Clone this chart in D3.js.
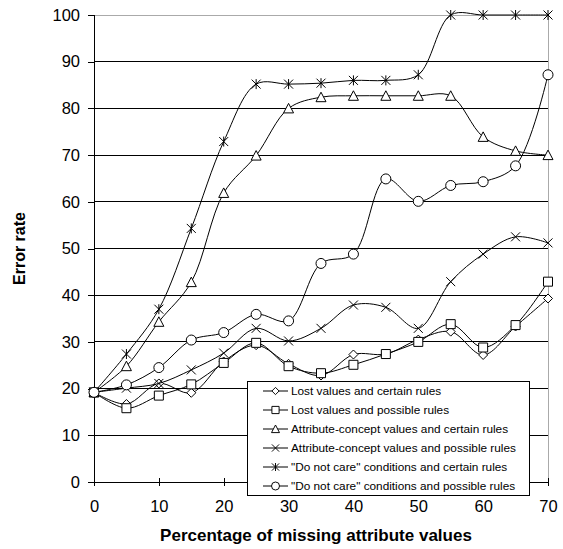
<!DOCTYPE html>
<html>
<head>
<meta charset="utf-8">
<script src="https://cdn.jsdelivr.net/npm/d3@7"></script>
<style>
  body { margin: 0; background: #fff; }
  text { font-family: "Liberation Sans", Arial, sans-serif; fill: #000; }
</style>
</head>
<body>
<div id="chart"></div>
<script>
// data
const missing = [0, 5, 10, 15, 20, 25, 30, 35, 40, 45, 50, 55, 60, 65, 70];
const lostCertain = [19.2, 16.7, 21.1, 19.1, 25.8, 29.3, 25.3, 22.8, 27.3, 27.4, 30.5, 32.2, 27.2, 33.3, 39.3];
const lostPossible = [19.2, 15.8, 18.5, 20.9, 25.5, 29.8, 24.8, 23.3, 25.1, 27.4, 30.0, 33.8, 28.8, 33.6, 42.9];
const acCertain = [19.2, 24.8, 34.3, 42.8, 61.9, 69.9, 80.0, 82.4, 82.7, 82.7, 82.7, 82.7, 73.9, 70.9, 70.0];
const acPossible = [19.2, 20.1, 21.1, 24.0, 27.6, 32.9, 30.2, 32.9, 37.9, 37.4, 32.9, 42.9, 48.8, 52.5, 51.2];
const dncCertain = [19.2, 27.4, 37.0, 54.3, 72.9, 85.2, 85.2, 85.4, 86.0, 86.0, 87.2, 100, 100, 100, 100];
const dncPossible = [19.2, 20.8, 24.5, 30.4, 32.0, 35.9, 34.5, 46.8, 48.8, 64.9, 60.1, 63.5, 64.3, 67.7, 87.2];
const seriesNames = [
    "Lost values and certain rules",
    "Lost values and possible rules",
    "Attribute-concept values and certain rules",
    "Attribute-concept values and possible rules",
    "\"Do not care\" conditions and certain rules",
    "\"Do not care\" conditions and possible rules"
];
const markerTypes = ["diamond", "square", "triangle", "x", "star", "circle"];
const xTicks = [0, 10, 20, 30, 40, 50, 60, 70];
const yTicks = [0, 10, 20, 30, 40, 50, 60, 70, 80, 90, 100];

const allSeries = [lostCertain, lostPossible, acCertain, acPossible, dncCertain, dncPossible];

// set dimensions
const width = 563,
    height = 549,
    margin = { top: 15, right: 15, bottom: 67, left: 94 };

const svg = d3.select("#chart")
    .append("svg")
    .attr("width", width)
    .attr("height", height);

const x = d3.scaleLinear()
    .domain([0, 70])
    .range([margin.left, width - margin.right]);

const y = d3.scaleLinear()
    .domain([0, 100])
    .range([height - margin.bottom, margin.top]);

// gridlines
svg.append("g")
    .selectAll("line")
    .data(yTicks.filter(d => d > 0))
    .enter()
    .append("line")
    .attr("x1", x(0))
    .attr("x2", x(70))
    .attr("y1", d => y(d))
    .attr("y2", d => y(d))
    .attr("stroke", d => d === 100 ? "#aaa" : "#000")
    .attr("stroke-width", 1)
    .attr("shape-rendering", "crispEdges");

// right border of plot area
svg.append("line")
    .attr("x1", x(70)).attr("x2", x(70))
    .attr("y1", y(100)).attr("y2", y(0))
    .attr("stroke", "#aaa")
    .attr("shape-rendering", "crispEdges");

// axes
const yAxis = d3.axisLeft(y)
    .tickValues(yTicks)
    .tickSize(6)
    .tickPadding(8);

svg.append("g")
    .attr("transform", `translate(${x(0)},0)`)
    .call(yAxis)
    .call(g => g.select(".domain").attr("d", `M0,${y(0)}V${y(100)}`).attr("stroke", "#000"))
    .call(g => g.selectAll(".tick line").attr("stroke", "#000"))
    .call(g => g.selectAll("text").style("font-size", "16.5px").attr("fill", "#000"));

const xAxis = d3.axisBottom(x)
    .tickValues(xTicks)
    .tickSize(4)
    .tickPadding(14);

svg.append("g")
    .attr("transform", `translate(0,${y(0)})`)
    .call(xAxis)
    .call(g => g.select(".domain").attr("d", `M${x(0)},0H${x(70)}`).attr("stroke", "#000"))
    .call(g => g.selectAll(".tick line").attr("y1", -4).attr("stroke", "#000"))
    .call(g => g.selectAll("text").style("font-size", "16.5px").attr("fill", "#000"));

svg.selectAll(".domain, .tick line").attr("shape-rendering", "crispEdges");

// axis titles
svg.append("text")
    .attr("x", 316)
    .attr("y", 541)
    .attr("text-anchor", "middle")
    .style("font-size", "17px")
    .style("font-weight", "bold")
    .text("Percentage of missing attribute values");

svg.append("text")
    .attr("transform", `translate(25,${(y(0) + y(100)) / 2}) rotate(-90)`)
    .attr("text-anchor", "middle")
    .style("font-size", "16px")
    .style("font-weight", "bold")
    .text("Error rate");

// marker shapes
function markerPath(type) {
    switch (type) {
        case "diamond": return "M0,-4.5L4.5,0L0,4.5L-4.5,0Z";
        case "square": return "M-4.5,-4.5H4.5V4.5H-4.5Z";
        case "triangle": return "M0,-5L5,4.5H-5Z";
        case "x": return "M-4.5,-4.5L4.5,4.5M-4.5,4.5L4.5,-4.5";
        case "star": return "M-4.5,-4.5L4.5,4.5M-4.5,4.5L4.5,-4.5M0,-5V5";
        case "circle": return "M5,0A5,5 0 1,1 -5,0A5,5 0 1,1 5,0Z";
    }
}

const line = d3.line()
    .x((d, i) => x(missing[i]))
    .y(d => y(d))
    .curve(d3.curveCatmullRom.alpha(0.5));

// draw series
allSeries.forEach((values, s) => {
    const g = svg.append("g").attr("class", "series");
    g.append("path")
        .datum(values)
        .attr("d", line)
        .attr("fill", "none")
        .attr("stroke", "#000")
        .attr("stroke-width", 1);
    g.selectAll("path.marker")
        .data(values)
        .enter()
        .append("path")
        .attr("class", "marker")
        .attr("transform", (d, i) => `translate(${x(missing[i])},${y(d)})`)
        .attr("d", markerPath(markerTypes[s]))
        .attr("fill", "#fff")
        .attr("fill-opacity", markerTypes[s] === "x" || markerTypes[s] === "star" ? 0 : 1)
        .attr("stroke", "#000")
        .attr("stroke-width", 1);
});

// legend
const legendX = 247, legendY = 381, legendW = 282, legendH = 114;
const legend = svg.append("g");

legend.append("rect")
    .attr("x", legendX + 0.5)
    .attr("y", legendY + 0.5)
    .attr("width", legendW)
    .attr("height", legendH)
    .attr("fill", "#fff")
    .attr("stroke", "#000");

seriesNames.forEach((name, i) => {
    const cy = legendY + 10 + i * 19;
    legend.append("line")
        .attr("x1", legendX + 16)
        .attr("x2", legendX + 41)
        .attr("y1", cy)
        .attr("y2", cy)
        .attr("stroke", "#000");
    legend.append("path")
        .attr("transform", `translate(${legendX + 28.5},${cy}) scale(0.8)`)
        .attr("d", markerPath(markerTypes[i]))
        .attr("fill", "#fff")
        .attr("stroke", "#000")
        .attr("stroke-width", 1.2);
    legend.append("text")
        .attr("x", legendX + 44)
        .attr("y", cy)
        .attr("dy", "0.35em")
        .style("font-size", "11.8px")
        .text(name);
});
</script>
</body>
</html>
